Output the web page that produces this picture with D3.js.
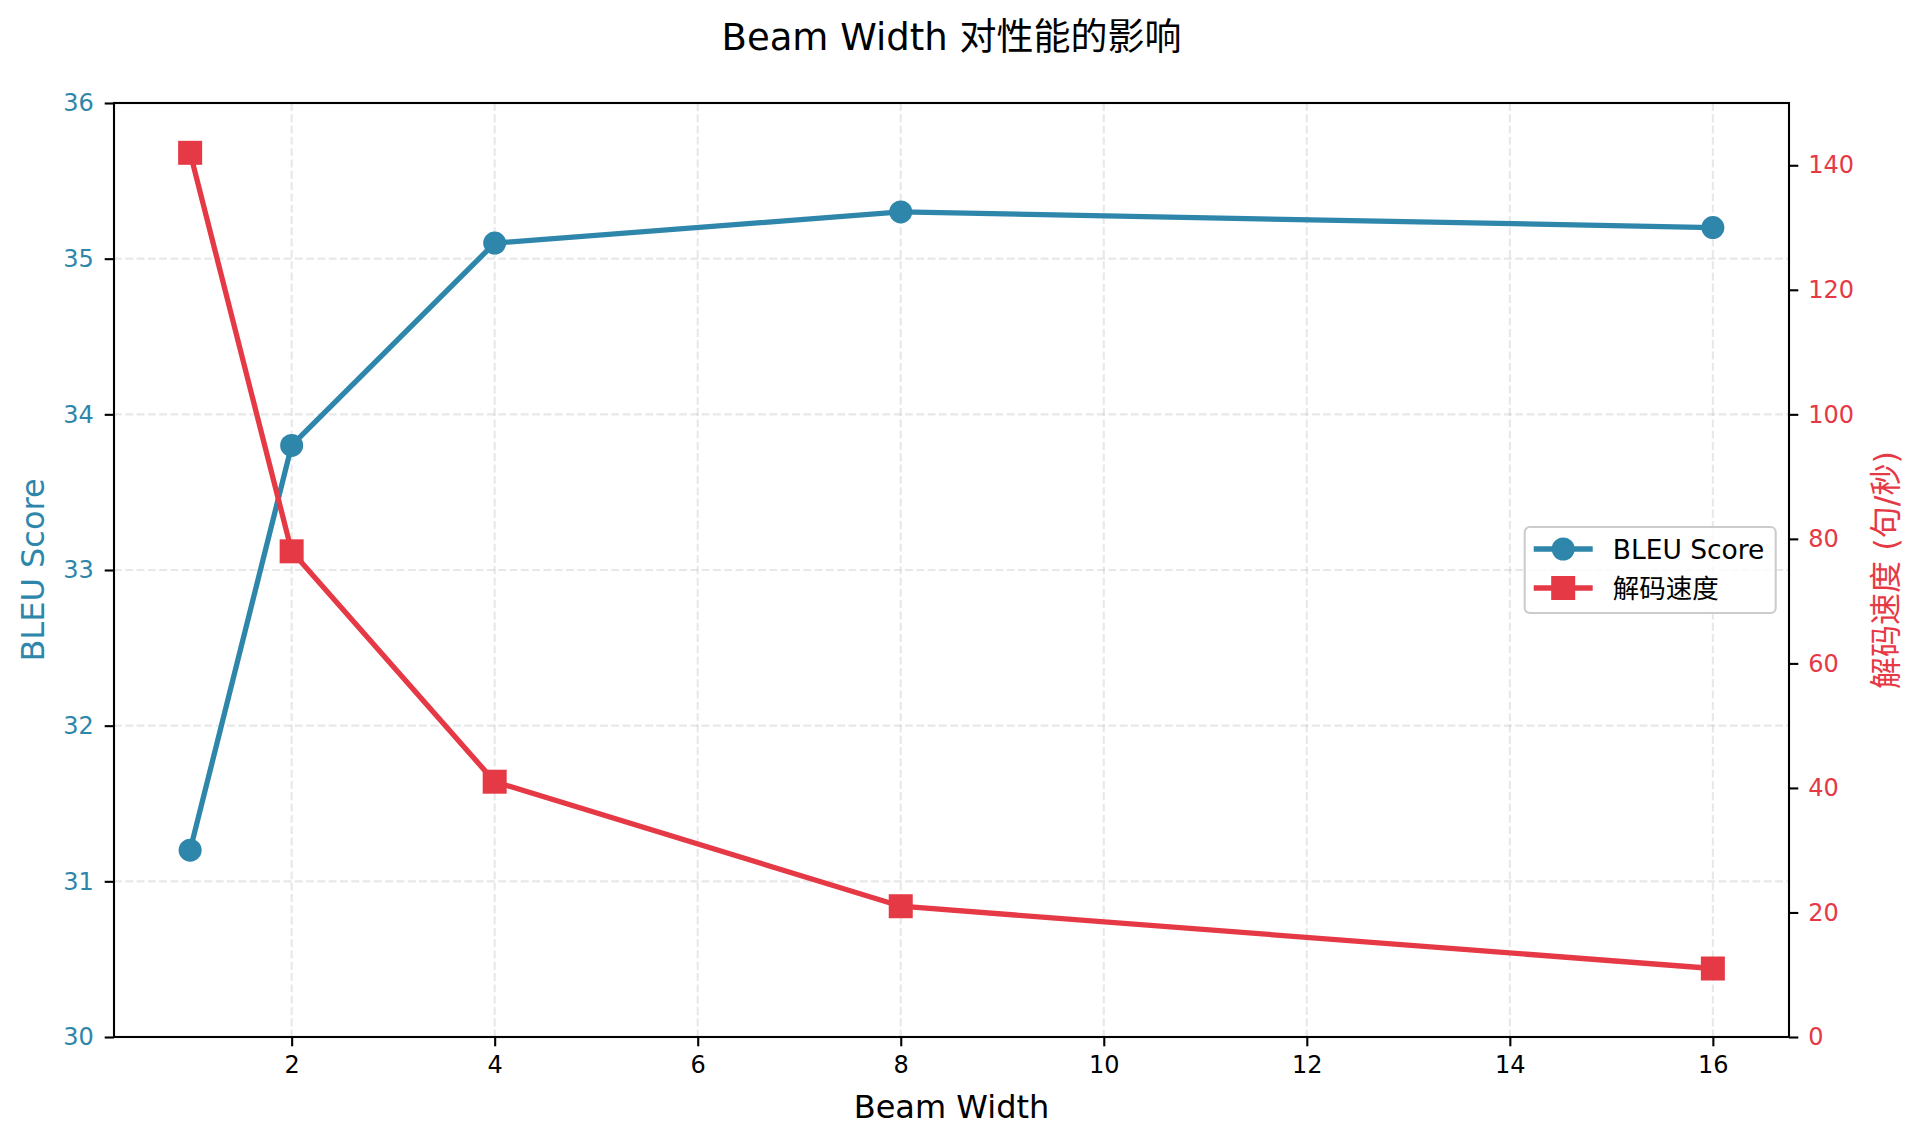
<!DOCTYPE html>
<html>
<head>
<meta charset="utf-8">
<script src="https://cdn.jsdelivr.net/npm/d3@7"></script>
<style>
  body { margin: 0; background: #fff; }
  text { font-family: "DejaVu Sans", "Noto Sans CJK SC", sans-serif; }
</style>
</head>
<body>
<svg width="1920" height="1143"></svg>
<script>
// data
var beamWidths = [1, 2, 4, 8, 16];
var bleuScores = [31.2, 33.8, 35.1, 35.3, 35.2];
var speeds = [142, 78, 41, 21, 11];

var xTicks = [2, 4, 6, 8, 10, 12, 14, 16];
var bleuTicks = [30, 31, 32, 33, 34, 35, 36];
var speedTicks = [0, 20, 40, 60, 80, 100, 120, 140];

var seriesNames = ["BLEU Score", "解码速度"];

var blue = "#2E86AB", red = "#E63946";

var svg = d3.select("svg"),
    margin = {left: 114, top: 103, right: 131, bottom: 106},
    width = 1920 - margin.left - margin.right,
    height = 1143 - margin.top - margin.bottom;

var xScale = d3.scaleLinear().domain([0.25, 16.75]).range([0, width]),
    yLeft = d3.scaleLinear().domain([30, 36]).range([height, 0]),
    yRight = d3.scaleLinear().domain([0, 150]).range([height, 0]);

var g = svg.append("g").attr("transform", "translate(" + margin.left + "," + margin.top + ")");

// grid (from the left axis only)
var grid = g.append("g").attr("stroke", "#b2b2b2").attr("stroke-opacity", 0.3)
    .attr("stroke-width", 2.1).attr("stroke-dasharray", "7.9,3.4");
grid.selectAll(".vg").data(xTicks).enter().append("line")
    .attr("x1", function(d){ return xScale(d); }).attr("x2", function(d){ return xScale(d); })
    .attr("y1", 0).attr("y2", height);
grid.selectAll(".hg").data(bleuTicks).enter().append("line")
    .attr("y1", function(d){ return yLeft(d); }).attr("y2", function(d){ return yLeft(d); })
    .attr("x1", 0).attr("x2", width);

// axes
var xAxis = g.append("g").attr("transform", "translate(0," + height + ")")
    .call(d3.axisBottom(xScale).tickValues(xTicks).tickFormat(d3.format("d")).tickSize(9.3).tickPadding(10));
var leftAxis = g.append("g")
    .call(d3.axisLeft(yLeft).tickValues(bleuTicks).tickFormat(d3.format("d")).tickSize(9.3).tickPadding(11));
var rightAxis = g.append("g").attr("transform", "translate(" + width + ",0)")
    .call(d3.axisRight(yRight).tickValues(speedTicks).tickFormat(d3.format("d")).tickSize(9.3).tickPadding(10));

[xAxis, leftAxis, rightAxis].forEach(function(a){
  a.select(".domain").remove();
  a.selectAll(".tick line").attr("stroke", "#000").attr("stroke-width", 2.1);
  a.selectAll("text").style("font-size", "24px").style("font-family", "DejaVu Sans");
});
xAxis.selectAll("text").attr("fill", "#000");
leftAxis.selectAll("text").attr("fill", blue);
rightAxis.selectAll("text").attr("fill", red);

// lines
var blueLine = d3.line().x(function(d, i){ return xScale(beamWidths[i]); }).y(function(d){ return yLeft(d); });
var redLine = d3.line().x(function(d, i){ return xScale(beamWidths[i]); }).y(function(d){ return yRight(d); });

g.append("path").datum(bleuScores).attr("d", blueLine)
  .attr("fill", "none").attr("stroke", blue).attr("stroke-width", 5.3);
g.selectAll(".dot").data(bleuScores).enter().append("circle")
  .attr("cx", function(d, i){ return xScale(beamWidths[i]); })
  .attr("cy", function(d){ return yLeft(d); })
  .attr("r", 11.5).attr("fill", blue);

g.append("path").datum(speeds).attr("d", redLine)
  .attr("fill", "none").attr("stroke", red).attr("stroke-width", 5.3);
g.selectAll(".sq").data(speeds).enter().append("rect")
  .attr("x", function(d, i){ return xScale(beamWidths[i]) - 12; })
  .attr("y", function(d){ return yRight(d) - 12; })
  .attr("width", 24).attr("height", 24).attr("fill", red);

// frame
g.append("rect").attr("width", width).attr("height", height)
  .attr("fill", "none").attr("stroke", "#000").attr("stroke-width", 2.1);

// labels
svg.append("text").attr("x", margin.left + width / 2).attr("y", 50)
  .attr("text-anchor", "middle").style("font-size", "37px").text("Beam Width 对性能的影响");
svg.append("text").attr("x", margin.left + width / 2).attr("y", 1118)
  .attr("text-anchor", "middle").style("font-size", "32px").text("Beam Width");
svg.append("text").attr("transform", "translate(44," + (margin.top + height / 2) + ")rotate(-90)")
  .attr("text-anchor", "middle").attr("fill", blue).style("font-size", "32px").text("BLEU Score");
svg.append("text").attr("transform", "translate(1897," + (margin.top + height / 2) + ")rotate(-90)")
  .attr("text-anchor", "middle").attr("fill", red).style("font-size", "32px").text("解码速度 (句/秒)");

// legend
var lg = g.append("g").attr("transform", "translate(" + (width - 13.3 - 251) + "," + (height / 2 - 43) + ")");
lg.append("rect").attr("width", 251).attr("height", 86).attr("rx", 5)
  .attr("fill", "#fff").attr("fill-opacity", 0.8).attr("stroke", "#cccccc").attr("stroke-width", 2.1);
var rows = lg.selectAll(".row").data(seriesNames).enter().append("g")
  .attr("transform", function(d, i){ return "translate(0," + (22 + i * 39) + ")"; });
rows.append("line").attr("x1", 9).attr("x2", 68).attr("y1", 0).attr("y2", 0)
  .attr("stroke", function(d, i){ return i === 0 ? blue : red; }).attr("stroke-width", 5.3);
rows.filter(function(d, i){ return i === 0; }).append("circle")
  .attr("cx", 38.5).attr("cy", 0).attr("r", 11.5).attr("fill", blue);
rows.filter(function(d, i){ return i === 1; }).append("rect")
  .attr("x", 26.5).attr("y", -12).attr("width", 24).attr("height", 24).attr("fill", red);
rows.append("text").attr("x", 88).attr("y", 9.5).style("font-size", "26.5px").text(function(d){ return d; });
</script>
</body>
</html>
